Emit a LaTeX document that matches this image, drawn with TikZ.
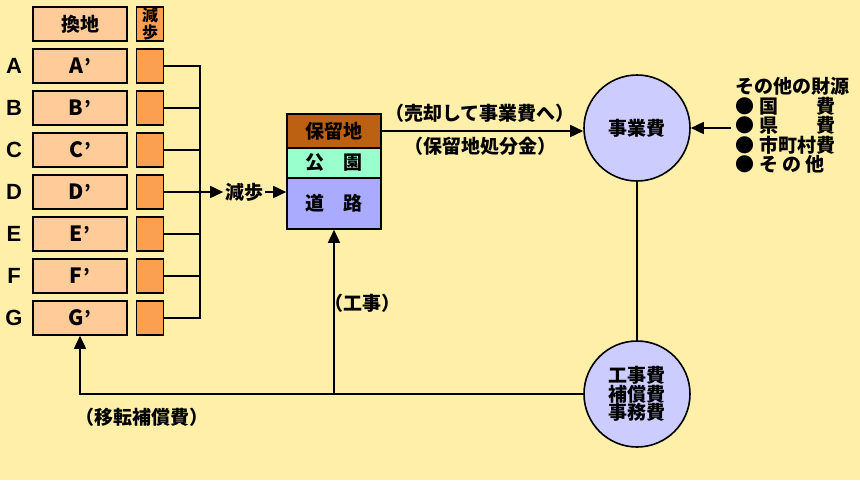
\documentclass[tikz,border=0pt]{standalone}
\usepackage{fontspec}
\setmainfont{Liberation Sans}
\newfontfamily\jp{Noto Sans CJK JP}
\usetikzlibrary{arrows.meta}
\definecolor{bgyellow}{RGB}{255,239,168}
\definecolor{peach}{RGB}{255,204,153}
\definecolor{dorange}{RGB}{250,160,80}
\definecolor{brown}{RGB}{188,96,18}
\definecolor{aqua}{RGB}{153,255,204}
\definecolor{lav}{RGB}{170,170,255}
\definecolor{pale}{RGB}{204,204,255}
\newcommand{\lot}[1]{{\bfseries\fontsize{21}{21}\selectfont #1}\hspace{1pt}’}

\begin{document}
\begin{tikzpicture}[x=1pt,y=-1pt,line width=1.6pt,>={Triangle[length=13pt,width=12pt]},
  kanchi/.style={draw,fill=peach,minimum width=94pt,minimum height=34pt,
  inner sep=0pt,font=\jp\bfseries\fontsize{19}{20}\selectfont},
  genbu/.style={draw,fill=dorange,minimum width=27pt,minimum height=34pt,inner sep=0pt},
  letter/.style={font=\bfseries\fontsize{22}{22}\selectfont},
  layer/.style={draw,minimum width=94pt,inner sep=0pt,
  font=\jp\bfseries\fontsize{19}{20}\selectfont},
  fund/.style={circle,draw,fill=pale,minimum size=106pt,inner sep=0pt,align=center,
  font=\jp\bfseries\fontsize{19}{18.5}\selectfont},
  lbl/.style={font=\jp\bfseries\fontsize{19}{20}\selectfont,inner sep=1pt}]

  \useasboundingbox[fill=bgyellow] (0,0) rectangle (860,480);

  % header row
  \node[kanchi] (H1) at (80,24) {換地};
  \node[genbu,align=center,font=\jp\bfseries\fontsize{16}{15}\selectfont] (H2) at (150,24) {減\\歩};

  % lots A to G
  \node[letter] (A) at (14,66) {A};
  \node[kanchi] (A1) at (80,66) {\lot{A}};
  \node[genbu] (A2) at (150,66) {};
  \node[letter] (B) at (14,108) {B};
  \node[kanchi] (B1) at (80,108) {\lot{B}};
  \node[genbu] (B2) at (150,108) {};
  \node[letter] (C) at (14,150) {C};
  \node[kanchi] (C1) at (80,150) {\lot{C}};
  \node[genbu] (C2) at (150,150) {};
  \node[letter] (D) at (14,192) {D};
  \node[kanchi] (D1) at (80,192) {\lot{D}};
  \node[genbu] (D2) at (150,192) {};
  \node[letter] (E) at (14,234) {E};
  \node[kanchi] (E1) at (80,234) {\lot{E}};
  \node[genbu] (E2) at (150,234) {};
  \node[letter] (F) at (14,276) {F};
  \node[kanchi] (F1) at (80,276) {\lot{F}};
  \node[genbu] (F2) at (150,276) {};
  \node[letter] (G) at (14,318) {G};
  \node[kanchi] (G1) at (80,318) {\lot{G}};
  \node[genbu] (G2) at (150,318) {};

  % bracket gathering the reductions
  \coordinate (J) at (200,192);
  \draw (A2.east) -| (J);
  \draw (G2.east) -| (J);
  \draw (B2.east) -- (B2.east -| J);
  \draw (C2.east) -- (C2.east -| J);
  \draw (E2.east) -- (E2.east -| J);
  \draw (F2.east) -- (F2.east -| J);

  % land stack
  \node[layer,fill=brown,minimum height=34pt] (RES) at (334,131) {保留地};
  \node[layer,fill=aqua,minimum height=30pt] (PARK) at (334,163) {公　園};
  \node[layer,fill=lav,minimum height=51pt] (ROAD) at (334,203.5) {道　路};

  \node[lbl] (GB) at (244,192) {減歩};
  \draw[->] (D2.east) -- (GB.west);
  \draw[->] (GB.east) -- (GB.east -| ROAD.west);

  % funds
  \node[fund] (JG) at (637,128) {事業費};
  \node[fund] (K) at (637,394) {工事費\\補償費\\事務費};

  \draw[->] (RES.east) -- (RES.east -| JG.west);
  \node[lbl] at (480,113) {（売却して事業費へ）};
  \node[lbl] at (480,146) {（保留地処分金）};

  \node[anchor=north west,align=left,inner sep=0pt,
  font=\jp\bfseries\fontsize{19}{19.5}\selectfont] (SRC) at (735,77)
  {その他の財源\\●\ 国　　費\\●\ 県　　費\\●\ 市町村費\\●\ そ の 他};
  \draw[->] ([xshift=-4pt]SRC.west |- JG) -- (JG.east);

  \draw (JG.south) -- (K.north);
  \draw[->] (K.west) -| (G1.south);
  \draw[->] (K.west -| ROAD.south) -- (ROAD.south);
  \node[lbl] at (362,303) {（工事）};
  \node[lbl] at (142,417) {（移転補償費）};

\end{tikzpicture}
\end{document}
